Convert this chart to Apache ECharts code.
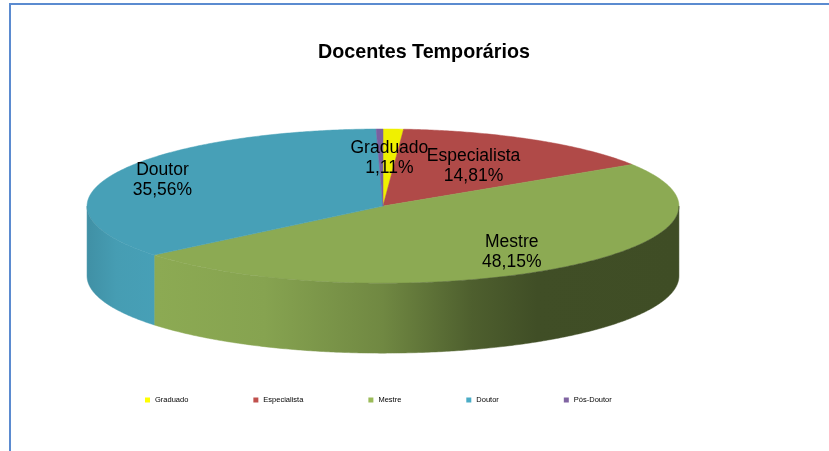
<!DOCTYPE html>
<html>
<head>
<meta charset="utf-8">
<script src="https://cdn.jsdelivr.net/npm/echarts@6/dist/echarts.min.js"></script>
<style>
html, body { margin: 0; padding: 0; background: #fff; }
#main { width: 829px; height: 451px; }
</style>
</head>
<body>
<div id="main"></div>
<script>
var categories = ['Graduado', 'Especialista', 'Mestre', 'Doutor', 'Pós-Doutor'];
var percents = [1.11, 14.81, 48.15, 35.56, 0.37];
var showLabel = [true, true, true, true, false];

// styles
var legendColors = ['#FFFF00', '#C0504D', '#9BBB59', '#4BACC6', '#8064A2'];
var topColors = ['#F0F000', '#B04A48', '#8CAA53', '#47A0B7', '#7A5F9F'];
var labelDist = [0.62, 0.6, 0.74, 0.82, 0.7];

// pie geometry, as fractions of the chart size
var pieCenter = [0.462, 0.457];
var pieRx = 0.357;
var pieRy = 0.171;
var pieDepth = 0.155;

// side wall lighting: [position across the pie, brightness]
var wallLight = [[0, 0.9], [0.05, 0.98], [0.12, 1], [0.3, 0.96], [0.5, 0.8], [0.65, 0.56], [0.76, 0.46], [1, 0.45]];

function shade(hex, f) {
    var n = parseInt(hex.slice(1), 16);
    var r = Math.round(((n >> 16) & 255) * f);
    var g = Math.round(((n >> 8) & 255) * f);
    var b = Math.round((n & 255) * f);
    return 'rgb(' + r + ',' + g + ',' + b + ')';
}

function makeRender(idx) {
    return function (params, api) {
        var w = api.getWidth(), h = api.getHeight();
        var cx = w * pieCenter[0], cy = h * pieCenter[1];
        var rx = w * pieRx, ry = h * pieRy, d = h * pieDepth;
        var total = 0, start = 0;
        for (var i = 0; i < percents.length; i++) {
            total += percents[i];
            if (i < idx) start += percents[i];
        }
        var a0 = start / total * 360;
        var a1 = (start + percents[idx]) / total * 360;
        function pt(deg, dy) {
            var r = deg * Math.PI / 180;
            return [cx + rx * Math.sin(r), cy - ry * Math.cos(r) + (dy || 0)];
        }
        var children = [];
        var a;
        var top = [[cx, cy]];
        for (a = a0; a < a1; a += 0.5) top.push(pt(a));
        top.push(pt(a1));
        children.push({
            type: 'polygon',
            shape: { points: top },
            style: { fill: topColors[idx], stroke: topColors[idx], lineWidth: 0.5 }
        });

        var s0 = Math.max(a0, 90), s1 = Math.min(a1, 270);
        if (s1 > s0) {
            var pts = [];
            for (a = s0; a < s1; a += 0.5) pts.push(pt(a));
            pts.push(pt(s1));
            for (a = s1; a > s0; a -= 0.5) pts.push(pt(a, d));
            pts.push(pt(s0, d));
            var stops = wallLight.map(function (s) {
                return { offset: s[0], color: shade(topColors[idx], s[1]) };
            });
            var grad = new echarts.graphic.LinearGradient(cx - rx, 0, cx + rx, 0, stops, true);
            children.push({
                type: 'polygon',
                shape: { points: pts },
                style: { fill: grad, stroke: grad, lineWidth: 0.5 }
            });
        }

        if (showLabel[idx]) {
            var m = (a0 + a1) / 2 * Math.PI / 180;
            var k = labelDist[idx];
            children.push({
                type: 'text',
                z2: 100,
                x: cx + rx * Math.sin(m) * k,
                y: cy - ry * Math.cos(m) * k,
                style: {
                    text: categories[idx] + '\n' + percents[idx].toFixed(2).replace('.', ',') + '%',
                    align: 'center',
                    verticalAlign: 'middle',
                    fontSize: 17.5,
                    lineHeight: 20,
                    fontFamily: '"Liberation Sans", Arial, sans-serif',
                    fill: '#000'
                }
            });
        }
        return { type: 'group', children: children };
    };
}

var series = categories.map(function (name, i) {
    return {
        type: 'custom',
        name: name,
        coordinateSystem: 'none',
        renderItem: makeRender(i),
        data: [[percents[i]]],
        itemStyle: { color: legendColors[i] },
        silent: true
    };
});

var myChart = echarts.init(document.getElementById('main'));
var option = {
    backgroundColor: '#fff',
    animation: false,
    title: {
        text: 'Docentes Temporários',
        left: 318,
        top: 43,
        padding: 0,
        textStyle: {
            fontSize: 19.7,
            fontWeight: 'bold',
            fontFamily: '"Liberation Sans", Arial, sans-serif',
            color: '#000'
        }
    },
    legend: {
        data: categories,
        left: 145,
        top: 396,
        padding: 0,
        icon: 'rect',
        itemWidth: 5,
        itemHeight: 5,
        itemGap: 65,
        selectedMode: false,
        textStyle: {
            fontSize: 7.5,
            fontFamily: '"Liberation Sans", Arial, sans-serif',
            color: '#000'
        }
    },
    graphic: [{
        type: 'rect',
        silent: true,
        shape: { x: 10, y: 4, width: 1000, height: 1000 },
        style: { fill: 'none', stroke: '#5B8BD0', lineWidth: 2 }
    }],
    series: series
};
myChart.setOption(option);
</script>
</body>
</html>
